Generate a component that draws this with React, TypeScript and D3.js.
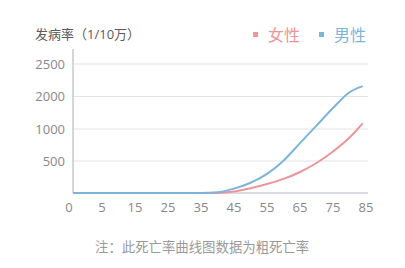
import React from "react";
import * as d3 from "d3";

const ages = [0, 5, 10, 15, 20, 25, 30, 35, 40, 45, 50, 55, 60, 65, 70, 75, 80, 84];
const maleValues = [0, 0, 0, 0, 0, 0, 0, 0, 12, 68, 160, 300, 505, 780, 1105, 1645, 2065, 2160];
const femaleValues = [0, 0, 0, 0, 0, 0, 0, 0, 0, 22, 73, 140, 220, 328, 469, 648, 867, 1175];

const xTickValues = [0, 5, 15, 25, 35, 45, 55, 65, 75, 85];
const yTickValues = [0, 500, 1000, 2000, 2500];
const yTickLabels = ["", "500", "1000", "2000", "2500"];

const seriesNames = ["女性", "男性"];
const seriesColors = ["#ec959a", "#7db4dc"];

const titleText = "发病率（1/10万）";
const noteText = "注：此死亡率曲线图数据为粗死亡率";

const W = 405;
const H = 268;
const plotLeft = 73;
const plotRight = 368;
const plotTop = 49;
const font = "'Open Sans', 'Noto Sans CJK SC', sans-serif";

export default function App() {
  const x = d3
    .scaleLinear()
    .domain(xTickValues)
    .range(xTickValues.map((_, i) => 69 + i * 33));
  const y = d3
    .scaleLinear()
    .domain(yTickValues)
    .range([193, 161, 129, 96.5, 64]);

  const line = (vals: number[]) =>
    d3
      .line<number>()
      .x((_, i) => x(ages[i]))
      .y((d) => y(d))
      .curve(d3.curveMonotoneX)(vals) || "";

  return (
    <svg
      width={W}
      height={H}
      style={{ position: "absolute", left: 0, top: 0, background: "#fff" }}
      fontFamily={font}
    >
      <defs>
        <clipPath id="plotclip">
          <rect x={plotLeft} y={0} width={plotRight - plotLeft} height={H} />
        </clipPath>
      </defs>
      <text x={35} y={38.5} fontSize={13} fill="#5a5a5a">
        {titleText}
      </text>

      {/* legend */}
      {seriesNames.map((name, i) => (
        <g key={name} transform={`translate(${253 + i * 66},0)`}>
          <rect x={0} y={32} width={5} height={5} fill={seriesColors[i]} />
          <text x={15} y={41} fontSize={16} fill={seriesColors[i]}>
            {name}
          </text>
        </g>
      ))}

      {/* grid */}
      {yTickValues.slice(1).map((v) => (
        <line
          key={v}
          x1={plotLeft}
          x2={plotRight}
          y1={y(v)}
          y2={y(v)}
          stroke="#e3e3e3"
          strokeWidth={1}
        />
      ))}
      {yTickValues.map((v, i) => (
        <text
          key={"yl" + v}
          x={65}
          y={y(v) + 4.5}
          fontSize={13}
          fill="#888"
          textAnchor="end"
        >
          {yTickLabels[i]}
        </text>
      ))}
      {/* axes */}
      <line x1={plotLeft} x2={plotLeft} y1={plotTop} y2={y(0)} stroke="#b4bcc4" strokeWidth={1.2} />
      <line x1={plotLeft} x2={plotRight} y1={y(0)} y2={y(0)} stroke="#b4bcc4" strokeWidth={1.2} />
      {xTickValues.map((v) => (
        <text key={"xl" + v} x={x(v)} y={211.5} fontSize={13} fill="#888" textAnchor="middle">
          {v}
        </text>
      ))}

      <g clipPath="url(#plotclip)">
        <path d={line(femaleValues)} fill="none" stroke={seriesColors[0]} strokeWidth={2} />
        <path d={line(maleValues)} fill="none" stroke={seriesColors[1]} strokeWidth={2} />
      </g>

      <text x={95} y={251.5} fontSize={13.4} fill="#9a9a9a">
        {noteText}
      </text>
    </svg>
  );
}
